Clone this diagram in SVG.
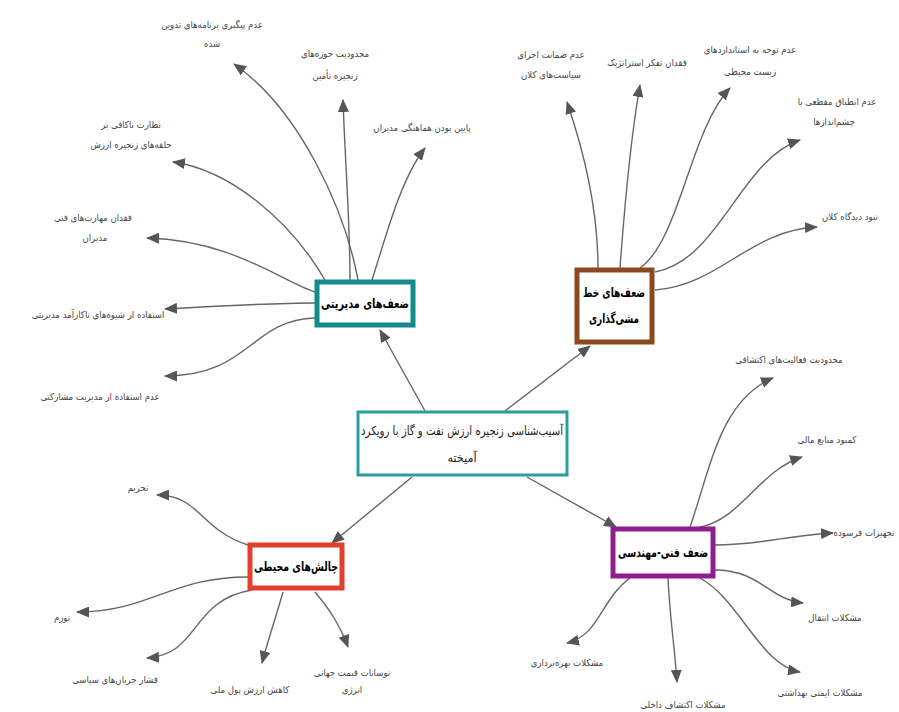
<svg xmlns="http://www.w3.org/2000/svg" width="899" height="712" viewBox="0 0 899 712">
<defs>
<marker id="ah" markerUnits="userSpaceOnUse" markerWidth="13" markerHeight="11" refX="12" refY="5.5" orient="auto">
<path d="M0,0 L13,5.5 L0,11 z" fill="#555"/>
</marker>
<style>
.c{fill:none;stroke:#666;stroke-width:1.4;marker-end:url(#ah)}
.lb{font-family:"DejaVu Sans Condensed","DejaVu Sans",sans-serif;font-size:9.5px;fill:#444;text-anchor:middle;direction:rtl}
.nt{font-family:"DejaVu Sans Condensed","DejaVu Sans",sans-serif;font-size:13px;font-weight:bold;fill:#000;text-anchor:middle;direction:rtl}
.ct{font-family:"DejaVu Sans Condensed","DejaVu Sans",sans-serif;font-size:12.5px;fill:#222;text-anchor:middle;direction:rtl}
.bx{fill:#fff;stroke-width:5}
</style>
</defs>
<rect width="899" height="712" fill="#fff"/>
<g id="connectors">
<path class="c" d="M425,411 L380,330"/>
<path class="c" d="M505,411 L590,346"/>
<path class="c" d="M412,477 L332,543"/>
<path class="c" d="M527,477 L616,527"/>
<path class="c" d="M358,280 C345,210 300,110 234,64"/>
<path class="c" d="M350,280 C350,220 345,160 343,100"/>
<path class="c" d="M372,280 C385,240 400,180 425,148"/>
<path class="c" d="M325,280 C290,220 230,170 173,162"/>
<path class="c" d="M315,292 C280,280 230,240 147,238"/>
<path class="c" d="M315,303 C270,303 220,306 165,309"/>
<path class="c" d="M315,318 C250,320 250,376 165,376"/>
<path class="c" d="M598,268 C598,200 580,140 567,102"/>
<path class="c" d="M620,268 C625,200 632,130 640,85"/>
<path class="c" d="M640,268 C680,240 690,130 730,88"/>
<path class="c" d="M655,272 C720,260 740,160 800,140"/>
<path class="c" d="M655,290 C720,285 750,230 817,227"/>
<path class="c" d="M690,527 C710,470 720,400 773,378"/>
<path class="c" d="M700,527 C740,520 760,470 802,457"/>
<path class="c" d="M715,545 C760,545 790,535 833,533"/>
<path class="c" d="M715,570 C760,570 770,600 803,603"/>
<path class="c" d="M700,578 C740,600 760,665 800,672"/>
<path class="c" d="M668,578 C670,620 675,650 677,682"/>
<path class="c" d="M630,578 C600,600 600,635 567,643"/>
<path class="c" d="M248,545 C200,530 200,495 157,495"/>
<path class="c" d="M248,577 C170,577 150,612 77,612"/>
<path class="c" d="M252,590 C190,600 200,655 147,658"/>
<path class="c" d="M283,592 C275,620 268,640 262,663"/>
<path class="c" d="M315,592 C330,610 340,625 348,647"/>
</g>
<g id="center">
<rect x="358" y="412" width="209" height="63" fill="#fff" stroke="#2a9d9d" stroke-width="3"/>
<text class="ct" x="462" y="435" textLength="202" lengthAdjust="spacingAndGlyphs">آسیب‌شناسی زنجیره ارزش نفت و گاز با رویکرد</text>
<text class="ct" x="462" y="462">آمیخته</text>
</g>
<g id="n-management">
<rect class="bx" x="317" y="282" width="96" height="43" stroke="#148a8c"/>
<text class="nt" x="365" y="308" textLength="88" lengthAdjust="spacingAndGlyphs">ضعف‌های مدیریتی</text>
</g>
<g id="n-policy">
<rect class="bx" x="577" y="270" width="75" height="72" stroke="#8b4a1e"/>
<text class="nt" x="614" y="297" textLength="62" lengthAdjust="spacingAndGlyphs">ضعف‌های خط</text>
<text class="nt" x="614" y="323" textLength="50" lengthAdjust="spacingAndGlyphs">مشی‌گذاری</text>
</g>
<g id="n-environment">
<rect class="bx" x="250" y="545" width="92" height="43" stroke="#e0402c"/>
<text class="nt" x="296" y="571" textLength="84" lengthAdjust="spacingAndGlyphs">چالش‌های محیطی</text>
</g>
<g id="n-technical">
<rect class="bx" x="613" y="529" width="100" height="47" stroke="#8e1e8e"/>
<text class="nt" x="663" y="557" textLength="90" lengthAdjust="spacingAndGlyphs">ضعف فنی-مهندسی</text>
</g>
<g id="l-management">
<text class="lb" x="212" y="28">عدم پیگیری برنامه‌های تدوین</text>
<text class="lb" x="212" y="47">شده</text>
<text class="lb" x="335" y="57">محدودیت حوزه‌های</text>
<text class="lb" x="335" y="79">زنجیره تأمین</text>
<text class="lb" x="422" y="131">پایین بودن هماهنگی مدیران</text>
<text class="lb" x="131" y="128">نظارت ناکافی بر</text>
<text class="lb" x="131" y="148">حلقه‌های زنجیره ارزش</text>
<text class="lb" x="93" y="221">فقدان مهارت‌های فنی</text>
<text class="lb" x="95" y="241">مدیران</text>
<text class="lb" x="98" y="318">استفاده از شیوه‌های ناکارآمد مدیریتی</text>
<text class="lb" x="100" y="400">عدم استفاده از مدیریت مشارکتی</text>
</g>
<g id="l-policy">
<text class="lb" x="551" y="58">عدم ضمانت اجرای</text>
<text class="lb" x="551" y="78">سیاست‌های کلان</text>
<text class="lb" x="647" y="66">فقدان تفکر استراتژیک</text>
<text class="lb" x="750" y="53">عدم توجه به استانداردهای</text>
<text class="lb" x="750" y="75">زیست محیطی</text>
<text class="lb" x="837" y="105">عدم انطباق مقطعی با</text>
<text class="lb" x="834" y="125">چشم‌اندازها</text>
<text class="lb" x="850" y="220">نبود دیدگاه کلان</text>
</g>
<g id="l-technical">
<text class="lb" x="789" y="363">محدودیت فعالیت‌های اکتشافی</text>
<text class="lb" x="827" y="443">کمبود منابع مالی</text>
<text class="lb" x="864" y="536">تجهیزات فرسوده</text>
<text class="lb" x="835" y="621">مشکلات انتقال</text>
<text class="lb" x="820" y="696">مشکلات ایمنی بهداشتی</text>
<text class="lb" x="683" y="708">مشکلات اکتشاف داخلی</text>
<text class="lb" x="567" y="666">مشکلات بهره‌برداری</text>
</g>
<g id="l-environment">
<text class="lb" x="138" y="491">تحریم</text>
<text class="lb" x="62" y="621">تورم</text>
<text class="lb" x="115" y="683">فشار جریان‌های سیاسی</text>
<text class="lb" x="250" y="693">کاهش ارزش پول ملی</text>
<text class="lb" x="352" y="676">نوسانات قیمت جهانی</text>
<text class="lb" x="352" y="693">انرژی</text>
</g>
</svg>
